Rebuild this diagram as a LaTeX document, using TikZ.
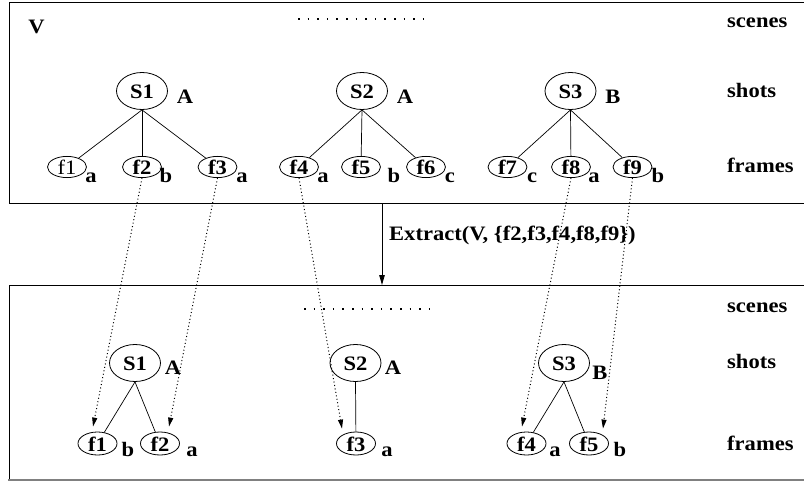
\documentclass[tikz,border=0pt]{standalone}
\usepackage{fontspec}
\setmainfont{Liberation Serif}[FakeStretch=1.1]
\usetikzlibrary{shapes.geometric,arrows.meta,calc}
\begin{document}
\begin{tikzpicture}[x=1pt,y=-1pt,
  txt/.style={font=\fontsize{20.5}{24}\selectfont\bfseries, inner sep=0pt},
  lbl/.style={txt, anchor=base},
  side/.style={txt, anchor=base west},
  shotnode/.style={draw, ellipse, line width=0.8pt, minimum width=51pt, minimum height=37pt, inner sep=0pt, txt, text height=14pt, text depth=0pt},
  topframe/.style={draw, ellipse, line width=0.8pt, minimum width=39pt, minimum height=20pt, inner sep=0pt, txt, text height=15pt, text depth=0pt},
  botframe/.style={draw, ellipse, line width=0.8pt, minimum width=39pt, minimum height=23pt, inner sep=0pt, txt, text height=15pt, text depth=0pt},
  edge/.style={line width=0.7pt},
  box/.style={line width=1pt},
  dotarrow/.style={line width=1pt, dash pattern=on 1pt off 2.5pt, -{Triangle[length=9pt,width=5pt]}},
  dotrow/.style={line width=1.8pt, dash pattern=on 1.5pt off 8.1pt}
]
\useasboundingbox (0,0) rectangle (804,482);

% boxes
\draw[box] (9,2) rectangle (810,203);
\draw[box] (9,285) -- (810,285);
\draw[box] (9,285) -- (9,480);
\draw[line width=2pt, gray] (8,480) -- (810,480);

% ---------- top panel ----------
\node[txt] (V) at (36.5,27) {V};
\coordinate (td1) at (298,19);
\coordinate (td2) at (424,19);
\draw[dotrow] (td1) -- (td2);
\node[side] (tsc) at (727,27) {scenes};
\node[side] (tsh) at (727,97) {shots};
\node[side] (tfr) at (727,172) {frames};

\node[shotnode] (S1) at (142,91) {S1};
\node[shotnode] (S2) at (362,91) {S2};
\node[shotnode] (S3) at (570.5,91) {S3};
\node[lbl] (lA1) at (185,103) {A};
\node[lbl] (lA2) at (405,103) {A};
\node[lbl] (lB3) at (613,103) {B};

\node[topframe, font=\fontsize{20.5}{24}\selectfont\mdseries] (f1) at (67,167) {f1};
\node[topframe] (f2) at (142,167) {f2};
\node[topframe] (f3) at (217.5,167) {f3};
\node[topframe] (f4) at (299,167) {f4};
\node[topframe] (f5) at (361,167) {f5};
\node[topframe] (f6) at (426,167) {f6};
\node[topframe] (f7) at (507.5,167) {f7};
\node[topframe] (f8) at (571,167) {f8};
\node[topframe] (f9) at (632.5,167) {f9};

\node[lbl] (l1) at (91,182) {a};
\node[lbl] (l2) at (166,182) {b};
\node[lbl] (l3) at (242,182) {a};
\node[lbl] (l4) at (323,182) {a};
\node[lbl] (l5) at (394,182) {b};
\node[lbl] (l6) at (450,182) {c};
\node[lbl] (l7) at (532,182) {c};
\node[lbl] (l8) at (594,182) {a};
\node[lbl] (l9) at (658,182) {b};

\foreach \s/\f in {S1/f1,S1/f2,S1/f3,S2/f4,S2/f5,S2/f6,S3/f7,S3/f8,S3/f9}
  \draw[edge] (\s.south) -- (\f);

% ---------- extract arrow ----------
\coordinate (ea) at (382,203);
\coordinate (eb) at (382,285);
\draw[line width=0.8pt, -{Triangle[length=10pt,width=5.5pt]}] (ea) -- (eb);
\node[side] (ext) at (389,240) {Extract(V, \{f2,f3,f4,f8,f9\})};

% ---------- bottom panel ----------
\coordinate (bd1) at (304,309);
\coordinate (bd2) at (430,309);
\draw[dotrow] (bd1) -- (bd2);
\node[side] (bsc) at (727,312) {scenes};
\node[side] (bsh) at (727,368) {shots};
\node[side] (bfr) at (727,450) {frames};

\node[shotnode] (T1) at (135,363) {S1};
\node[shotnode] (T2) at (355.5,363) {S2};
\node[shotnode] (T3) at (564,363) {S3};
\node[lbl] (mA1) at (173,374) {A};
\node[lbl] (mA2) at (393,374) {A};
\node[lbl] (mB3) at (600,379) {B};

\node[botframe] (g1) at (97.5,443.5) {f1};
\node[botframe] (g2) at (160,443.5) {f2};
\node[botframe] (g3) at (356,443.5) {f3};
\node[botframe] (g4) at (526.5,443.5) {f4};
\node[botframe] (g5) at (589,443.5) {f5};

\node[lbl] (m1) at (128,456) {b};
\node[lbl] (m2) at (192,456) {a};
\node[lbl] (m3) at (387,456) {a};
\node[lbl] (m4) at (555,456) {a};
\node[lbl] (m5) at (620,456) {b};

\foreach \s/\f in {T1/g1,T1/g2,T2/g3,T3/g4,T3/g5}
  \draw[edge] (\s.south) -- (\f);

% ---------- dotted mapping arrows ----------
\draw[dotarrow] (f2.south) -- ([xshift=-4.5pt,yshift=5pt]g1.north);
\draw[dotarrow] (f3.south) -- ([xshift=9pt,yshift=5pt]g2.north);
\draw[dotarrow] (f4.south) -- ([xshift=-14pt,yshift=3pt]g3.north);
\draw[dotarrow] (f8.south) -- ([xshift=-4.5pt,yshift=5pt]g4.north);
\draw[dotarrow] (f9.south) -- ([xshift=14pt,yshift=3pt]g5.north);
\end{tikzpicture}
\end{document}
